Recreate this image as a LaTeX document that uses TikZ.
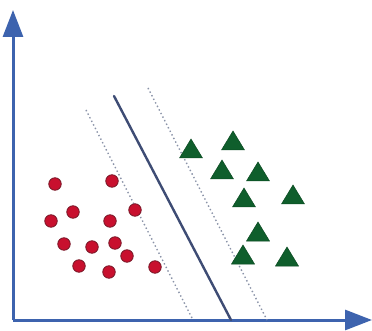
\documentclass[tikz,border=0pt]{standalone}
\usetikzlibrary{arrows.meta}
\definecolor{axisblue}{HTML}{3D63AE}
\definecolor{sepline}{HTML}{3E4C74}
\definecolor{margin}{HTML}{8A93A8}
\definecolor{dotred}{HTML}{C8102E}
\definecolor{dotedge}{HTML}{7A1A2A}
\definecolor{trigreen}{HTML}{0F5E2C}
\tikzset{
  axis/.style={draw=axisblue, line width=3pt, -{Triangle[length=27pt,width=20pt]}},
  separator/.style={draw=sepline, line width=2.4pt},
  marginline/.style={draw=margin, line width=1.4pt, dash pattern=on 1.4pt off 2.6pt},
  classA/.style={circle, fill=dotred, draw=dotedge, line width=0.8pt, minimum size=12.5pt, inner sep=0pt},
  classB/.style={fill=trigreen, draw=trigreen!80!black, line width=0.5pt}
}
\begin{document}
\begin{tikzpicture}[x=1pt,y=-1pt]
  \useasboundingbox (0,0) rectangle (372,331);
  \fill[white] (0,0) rectangle (372,331);

  % axes
  \coordinate (O) at (13,320);
  \coordinate (ytip) at (13,10);
  \coordinate (xtip) at (372,320);
  \draw[axis] (O) -- (ytip);
  \draw[axis] (O) -- (xtip);

  % margins and separating line
  \coordinate (m1a) at (86,110);  \coordinate (m1b) at (193,320);
  \coordinate (sa) at (114,96);   \coordinate (sb) at (231,320);
  \coordinate (m2a) at (148,88);  \coordinate (m2b) at (267,320);
  \draw[marginline] (m1a) -- (m1b);
  \draw[marginline] (m2a) -- (m2b);
  \draw[separator, line cap=round] (sa) -- (sb);

  % class A: circles
  \foreach \x/\y [count=\i] in {55/184,112/181,73/212,135/210,51/221,110/221,
      64/244,92/247,115/243,127/256,79/266,109/272,155/267}
    \node[classA] (c\i) at (\x,\y) {};

  % class B: triangles (apex position)
  \foreach \x/\y [count=\i] in {191/139,233/131,222/160,258/162,244/188,
      293/185,258/222,243/245,287/247}
    \path[classB] (\x,\y) -- ++(11.5,19) -- ++(-23,0) -- cycle;
\end{tikzpicture}
\end{document}
